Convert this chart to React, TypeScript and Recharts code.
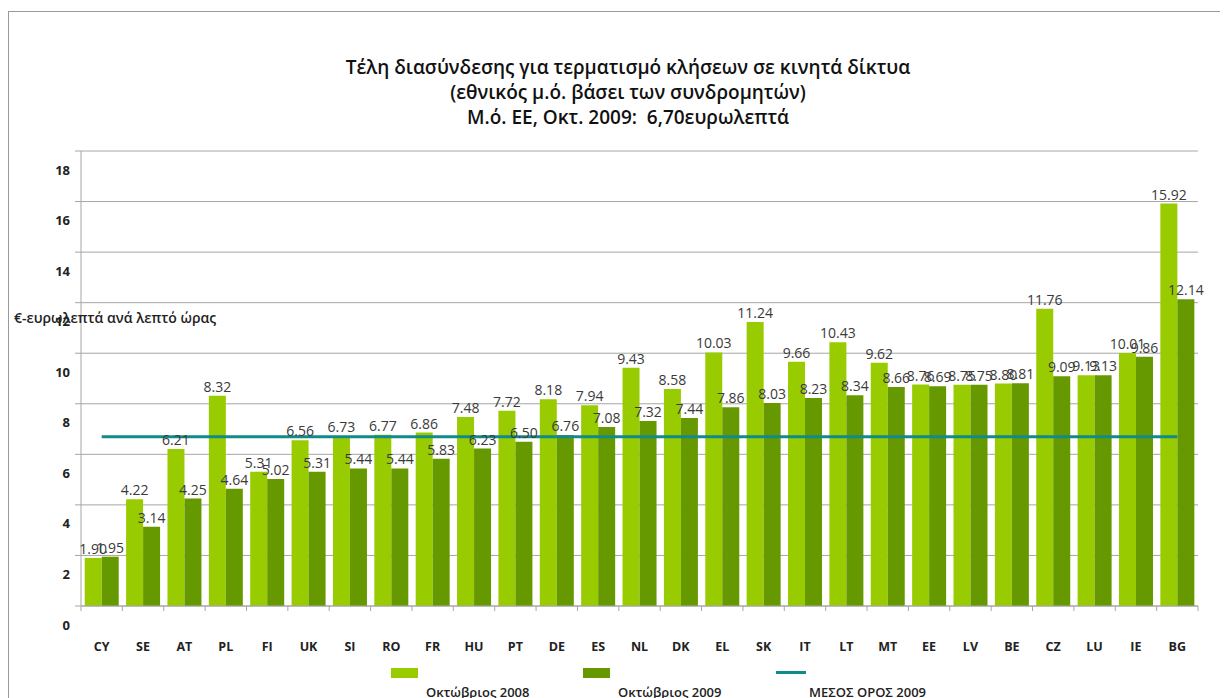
import React from 'react';
import {
  ComposedChart,
  Bar,
  Line,
  XAxis,
  YAxis,
  CartesianGrid,
  LabelList,
} from 'recharts';

const countries = ['CY', 'SE', 'AT', 'PL', 'FI', 'UK', 'SI', 'RO', 'FR', 'HU', 'PT', 'DE', 'ES', 'NL', 'DK', 'EL', 'SK', 'IT', 'LT', 'MT', 'EE', 'LV', 'BE', 'CZ', 'LU', 'IE', 'BG'];
const oct2008 = [1.90, 4.22, 6.21, 8.32, 5.31, 6.56, 6.73, 6.77, 6.86, 7.48, 7.72, 8.18, 7.94, 9.43, 8.58, 10.03, 11.24, 9.66, 10.43, 9.62, 8.76, 8.75, 8.80, 11.76, 9.13, 10.01, 15.92];
const oct2009 = [1.95, 3.14, 4.25, 4.64, 5.02, 5.31, 5.44, 5.44, 5.83, 6.23, 6.50, 6.76, 7.08, 7.32, 7.44, 7.86, 8.03, 8.23, 8.34, 8.66, 8.69, 8.75, 8.81, 9.09, 9.13, 9.86, 12.14];
const euAverage2009 = 6.70;
const yTicks = [0, 2, 4, 6, 8, 10, 12, 14, 16, 18];

const titleLines = [
  'Τέλη διασύνδεσης για τερματισμό κλήσεων σε κινητά δίκτυα',
  '(εθνικός μ.ό. βάσει των συνδρομητών)',
  'Μ.ό. ΕΕ, Οκτ. 2009:  6,70ευρωλεπτά',
];
const yAxisTitle = '€-ευρωλεπτά ανά λεπτό ώρας';
const seriesNames = ['Οκτώβριος 2008', 'Οκτώβριος 2009', 'ΜΕΣΟΣ ΟΡΟΣ 2009'];

const LIGHT = '#99cc00';
const DARK = '#669900';
const TEAL = '#108a8a';
const GRID = '#a6a6a6';
const FONT = '"Open Sans", "Noto Sans", sans-serif';

const data = countries.map((c, i) => ({
  country: c,
  y2008: oct2008[i],
  y2009: oct2009[i],
  avg: euAverage2009,
}));

const X_LABEL_GAP = 41;

function CountryTick(props: any) {
  const { x, y, payload, index, visibleTicksCount, width } = props;
  const band = width && visibleTicksCount ? width / visibleTicksCount : 41.4;
  const axisY = y - X_LABEL_GAP;
  const left = x - band / 2;
  return (
    <g>
      <line x1={left} x2={left} y1={axisY} y2={axisY + 5} stroke={GRID} />
      {index === visibleTicksCount - 1 && (
        <line x1={x + band / 2} x2={x + band / 2} y1={axisY} y2={axisY + 5} stroke={GRID} />
      )}
      <text x={x} y={y} dy="0.35em" textAnchor="middle" fontFamily={FONT} fontSize={12.5} fontWeight="bold" fill="#222">
        {payload.value}
      </text>
    </g>
  );
}

function ValueTick(props: any) {
  const { x, y, payload } = props;
  // labels sit about one third of a step below their gridline, as in the source
  return (
    <text x={x} y={y + 19} dy="0.35em" textAnchor="end" fontFamily={FONT} fontSize={13} fontWeight="bold" fill="#222">
      {payload.value}
    </text>
  );
}

const fmt = (v: any) => Number(v).toFixed(2);
const labelStyle = { fontFamily: FONT, fontSize: 14, fill: '#3a3a3a' };

export default function App() {
  return (
    <div
      style={{
        position: 'relative',
        top: 3,
        width: 1212,
        height: 700,
        border: '1px solid #999',
        fontFamily: FONT,
        background: '#fff',
      }}
    >
      <div style={{ position: 'absolute', left: 0, width: 1238, top: 43, textAlign: 'center', fontSize: 19, fontWeight: 600, lineHeight: '25px', color: '#111' }}>
        {titleLines.map((t) => (
          <div key={t} style={{ whiteSpace: 'pre' }}>{t}</div>
        ))}
      </div>
      <div style={{ position: 'absolute', left: 5, top: 296, fontSize: 14, fontWeight: 600, color: '#222', whiteSpace: 'nowrap', zIndex: 2 }}>
        {yAxisTitle}
      </div>

      <ComposedChart
        width={1212}
        height={690}
        data={data}
        margin={{ top: 139, right: 23, left: 0, bottom: 46 }}
        barCategoryGap="9%"
        barGap={0}
      >
        <CartesianGrid vertical={false} stroke={GRID} />
        <XAxis
          dataKey="country"
          height={50}
          interval={0}
          tickLine={false}
          tickSize={0}
          tickMargin={X_LABEL_GAP}
          axisLine={{ stroke: GRID }}
          tick={<CountryTick />}
        />
        <YAxis
          width={72}
          domain={[0, 18]}
          ticks={yTicks}
          interval={0}
          tickSize={6}
          tickMargin={5}
          tickLine={{ stroke: GRID }}
          axisLine={{ stroke: GRID }}
          tick={<ValueTick />}
        />
        <Bar dataKey="y2008" name={seriesNames[0]} fill={LIGHT} isAnimationActive={false}>
          <LabelList dataKey="y2008" position="top" offset={4} formatter={fmt} style={labelStyle} />
        </Bar>
        <Bar dataKey="y2009" name={seriesNames[1]} fill={DARK} isAnimationActive={false}>
          <LabelList dataKey="y2009" position="top" offset={4} formatter={fmt} style={labelStyle} />
        </Bar>
        <Line
          dataKey="avg"
          name={seriesNames[2]}
          type="linear"
          stroke={TEAL}
          strokeWidth={3}
          dot={false}
          activeDot={false}
          isAnimationActive={false}
        />
      </ComposedChart>

      <div style={{ position: 'absolute', left: 382, top: 656, width: 27, height: 10, background: LIGHT }} />
      <div style={{ position: 'absolute', left: 417, top: 671, fontSize: 13, fontWeight: 600, color: '#222', whiteSpace: 'nowrap' }}>{seriesNames[0]}</div>
      <div style={{ position: 'absolute', left: 574, top: 656, width: 27, height: 10, background: DARK }} />
      <div style={{ position: 'absolute', left: 609, top: 671, fontSize: 13, fontWeight: 600, color: '#222', whiteSpace: 'nowrap' }}>{seriesNames[1]}</div>
      <div style={{ position: 'absolute', left: 767, top: 659, width: 30, height: 3, background: TEAL }} />
      <div style={{ position: 'absolute', left: 800, top: 671, fontSize: 13, fontWeight: 600, color: '#222', whiteSpace: 'nowrap' }}>{seriesNames[2]}</div>
    </div>
  );
}
